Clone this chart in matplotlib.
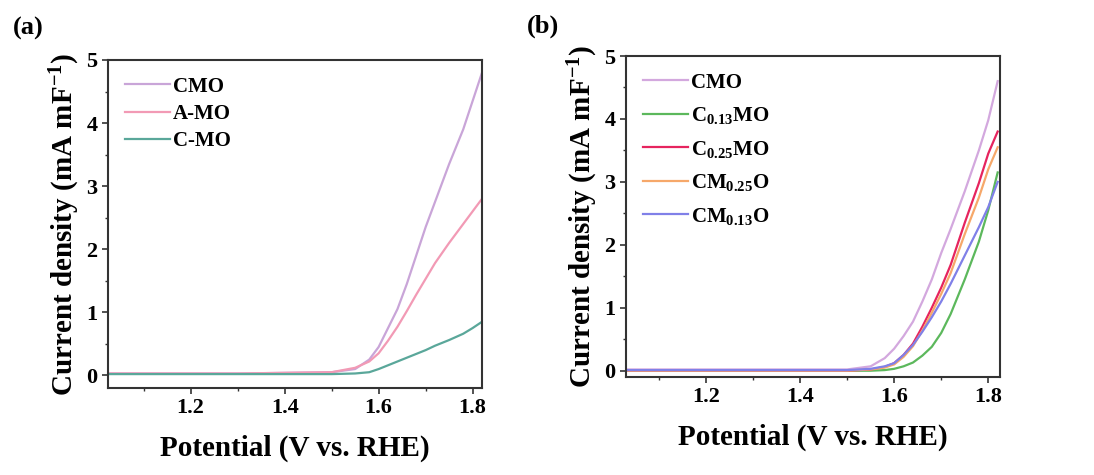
import matplotlib
matplotlib.use("Agg")
import matplotlib.pyplot as plt
from matplotlib.ticker import MultipleLocator

plt.rcParams['font.family'] = 'Liberation Serif'
plt.rcParams['font.weight'] = 'bold'
plt.rcParams['mathtext.fontset'] = 'custom'
plt.rcParams['mathtext.rm'] = 'Liberation Serif:bold'
plt.rcParams['mathtext.it'] = 'Liberation Serif:bold'
plt.rcParams['mathtext.bf'] = 'Liberation Serif:bold'

# Potential (V vs. RHE)
potential = [1.02, 1.1, 1.2, 1.3, 1.4, 1.5, 1.55, 1.58, 1.6, 1.62, 1.64, 1.66,
             1.68, 1.7, 1.72, 1.75, 1.78, 1.8, 1.82]

# panel (a)
cmo_a = [0.03, 0.03, 0.03, 0.03, 0.04, 0.05, 0.1, 0.25, 0.45, 0.75, 1.05, 1.45,
         1.9, 2.35, 2.75, 3.35, 3.9, 4.35, 4.8]
amo_a = [0.03, 0.03, 0.03, 0.03, 0.04, 0.05, 0.12, 0.22, 0.35, 0.55, 0.77, 1.02,
         1.28, 1.53, 1.78, 2.1, 2.4, 2.6, 2.8]
cmo2_a = [0.02, 0.02, 0.02, 0.02, 0.02, 0.02, 0.03, 0.05, 0.1, 0.16, 0.22, 0.28,
          0.34, 0.4, 0.47, 0.56, 0.66, 0.75, 0.85]
labels_a = ['CMO', 'A-MO', 'C-MO']
colors_a = ['#c9a5d8', '#f29ab5', '#5aa79a']

# panel (b)
cmo_b = [0.02, 0.02, 0.02, 0.02, 0.02, 0.02, 0.07, 0.2, 0.35, 0.55, 0.78, 1.1,
         1.45, 1.87, 2.25, 2.85, 3.5, 3.98, 4.6]
c013mo_b = [0.0, 0.0, 0.0, 0.0, 0.0, 0.0, 0.0, 0.01, 0.03, 0.07, 0.13, 0.24,
            0.38, 0.6, 0.9, 1.45, 2.05, 2.55, 3.15]
c025mo_b = [0.0, 0.0, 0.0, 0.0, 0.0, 0.0, 0.02, 0.06, 0.12, 0.25, 0.43, 0.7,
            1.0, 1.32, 1.68, 2.35, 2.98, 3.45, 3.8]
cm025o_b = [0.0, 0.0, 0.0, 0.0, 0.0, 0.0, 0.02, 0.05, 0.1, 0.22, 0.39, 0.64,
            0.92, 1.22, 1.55, 2.17, 2.75, 3.2, 3.55]
cm013o_b = [0.01, 0.01, 0.01, 0.01, 0.01, 0.01, 0.03, 0.07, 0.12, 0.25, 0.41, 0.62,
            0.85, 1.1, 1.38, 1.83, 2.28, 2.6, 3.0]
labels_b = ['CMO', r'C$_{0.13}$MO', r'C$_{0.25}$MO', r'CM$_{0.25}$O', r'CM$_{0.13}$O']
colors_b = ['#d3a8de', '#5cb85c', '#e6245e', '#f6a86a', '#8080e8']

fig = plt.figure(figsize=(10.94, 4.75), dpi=100)
ax1 = fig.add_axes([0.0987, 0.1832, 0.3419, 0.6905])
ax2 = fig.add_axes([0.5722, 0.2063, 0.3419, 0.6758])

for y, lab, c in zip([cmo_a, amo_a, cmo2_a], labels_a, colors_a):
    ax1.plot(potential, y, color=c, lw=1.6, label=lab)
for y, lab, c in zip([cmo_b, c013mo_b, c025mo_b, cm025o_b, cm013o_b], labels_b, colors_b):
    ax2.plot(potential, y, color=c, lw=1.6, label=lab)

ax1.set_xlim(1.024, 1.82)
ax1.set_ylim(-0.2, 5)
ax2.set_xlim(1.03, 1.825)
ax2.set_ylim(-0.1, 5)

for ax in (ax1, ax2):
    ax.xaxis.set_major_locator(MultipleLocator(0.2))
    ax.xaxis.set_minor_locator(MultipleLocator(0.1))
    ax.yaxis.set_major_locator(MultipleLocator(1))
    ax.yaxis.set_minor_locator(MultipleLocator(0.5))
    ax.tick_params(which='major', direction='out', length=4, width=1.2,
                   labelsize=16, color='#333333')
    ax.tick_params(which='minor', direction='out', length=2.5, width=1.0, color='#333333')
    for sp in ax.spines.values():
        sp.set_linewidth(1.5)
        sp.set_color('#333333')
    ax.set_xlabel('Potential (V vs. RHE)', fontsize=21, fontweight='bold', labelpad=12)
    ax.set_ylabel(r'Current density (mA mF$^{-1}$)', fontsize=21, fontweight='bold', labelpad=3)

ax1.legend(loc='upper left', frameon=False, fontsize=15, handlelength=2.2,
           handletextpad=0.1, borderaxespad=0.4, labelspacing=0.35)
ax2.legend(loc='upper left', frameon=False, fontsize=15, handlelength=2.2,
           handletextpad=0.1, borderaxespad=0.4, labelspacing=0.6)

fig.text(0.012, 0.94, '(a)', fontsize=19, fontweight='bold', ha='left', va='center')
fig.text(0.482, 0.945, '(b)', fontsize=19, fontweight='bold', ha='left', va='center')

fig.savefig('out.png', dpi=100)
